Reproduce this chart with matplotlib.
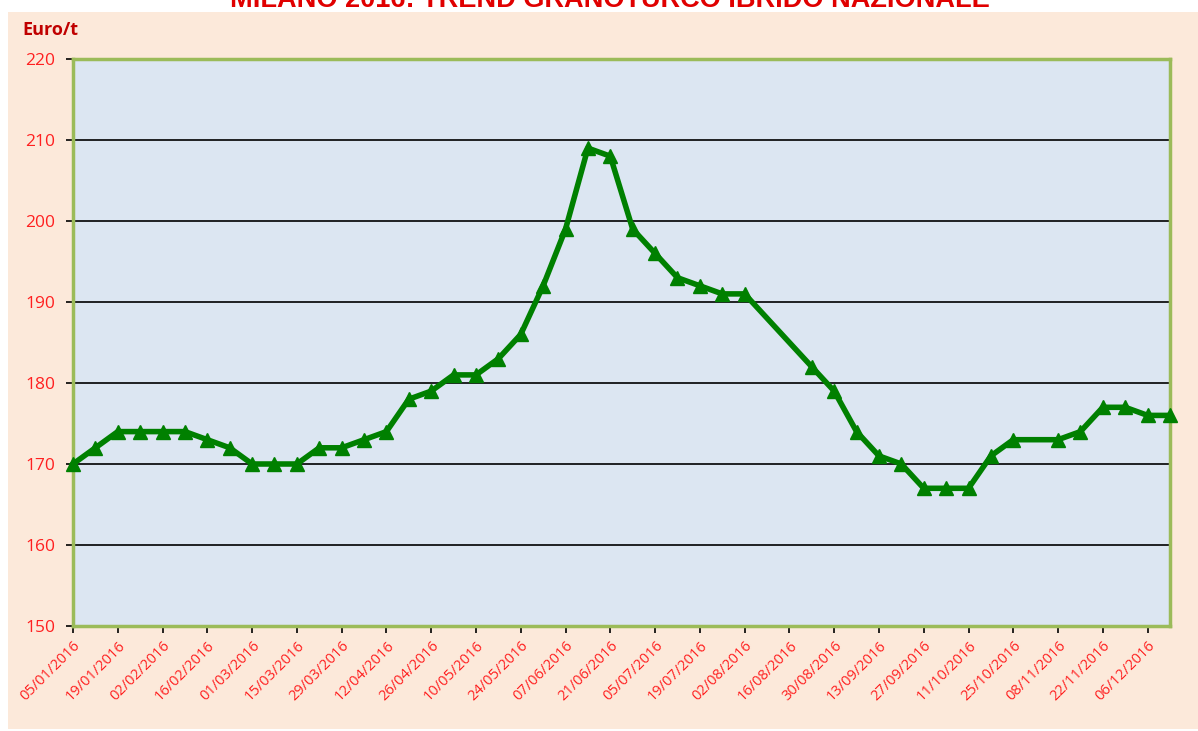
import numpy as np
import pandas as pd
import matplotlib
matplotlib.use("Agg")
import matplotlib.pyplot as plt
import matplotlib.dates as mdates
from matplotlib.patches import Rectangle

# ── Daten ──────────────────────────────────────────────────────────────────────
date_labels = ["05/01", "12/01", "19/01", "26/01", "02/02", "09/02", "16/02", "23/02",
               "01/03", "08/03", "15/03", "22/03", "29/03", "05/04", "12/04", "19/04",
               "26/04", "03/05", "10/05", "17/05", "24/05", "31/05", "07/06", "14/06",
               "21/06", "28/06", "05/07", "12/07", "19/07", "26/07", "02/08", "23/08",
               "30/08", "06/09", "13/09", "20/09", "27/09", "04/10", "11/10", "18/10",
               "25/10", "08/11", "15/11", "22/11", "29/11", "06/12", "13/12"]
prices = [170, 172, 174, 174, 174, 174, 173, 172,
          170, 170, 170, 172, 172, 173, 174, 178,
          179, 181, 181, 183, 186, 192, 199, 209,
          208, 199, 196, 193, 192, 191, 191, 182,
          179, 174, 171, 170, 167, 167, 167, 171,
          173, 173, 174, 177, 177, 176, 176]

title = "MILANO 2016: TREND GRANOTURCO IBRIDO NAZIONALE"
y_unit = "Euro/t"

dates = pd.to_datetime([d + "/2016" for d in date_labels], format="%d/%m/%Y")

# ── Plot ───────────────────────────────────────────────────────────────────────
fig = plt.figure(figsize=(11.98, 7.31), dpi=100, facecolor="white")
fig.patches.append(Rectangle((8 / 1198, 2 / 731), 1, 717 / 731, transform=fig.transFigure,
                             facecolor="#FCE9DA", edgecolor="none", zorder=-5))

ax = fig.add_axes([73 / 1198, 1 - 626 / 731, (1170 - 73) / 1198, (626 - 59) / 731])
ax.set_facecolor("#DCE6F2")

ax.plot(dates, prices, color="#008000", linewidth=4, marker="^", markersize=10.5,
        markeredgecolor="#008000", zorder=3, clip_on=False)

ax.set_ylim(150, 220)
ax.set_yticks(range(150, 221, 10))
ax.set_xlim(dates[0], dates[-1])
ticks = pd.date_range(dates[0], dates[-1], freq="14D")
ax.set_xticks(ticks)
ax.xaxis.set_major_formatter(mdates.DateFormatter("%d/%m/%Y"))

ax.grid(axis="y", color="black", linewidth=1.2)
ax.set_axisbelow(True)

for s in ax.spines.values():
    s.set_color("#9BBB59")
    s.set_linewidth(2.5)
ax.axvline(dates[0], color="black", linewidth=1.2, zorder=2)
ax.axhline(150, color="black", linewidth=1.2, zorder=2, clip_on=False)

ax.tick_params(axis="both", direction="out", length=5, width=1.2, color="black",
               labelcolor="#FF2020")
ax.tick_params(axis="y", pad=8)
for lab in ax.get_yticklabels():
    lab.set_fontfamily("Open Sans")
    lab.set_fontsize(12.5)
for lab in ax.get_xticklabels():
    lab.set_fontfamily("Open Sans")
    lab.set_fontsize(10.5)
    lab.set_rotation(45)
    lab.set_ha("right")
    lab.set_rotation_mode("anchor")

fig.text(22 / 1198, 1 - 30 / 731, y_unit, color="#C00000", fontsize=13,
         fontweight="bold", family="Open Sans", va="center", ha="left")
fig.text(610 / 1198, 1 - 7 / 731, title, color="#E00000", fontsize=19.5,
         fontweight="bold", family="Liberation Sans", va="baseline", ha="center")

fig.savefig("out.png", dpi=100, facecolor="white")
